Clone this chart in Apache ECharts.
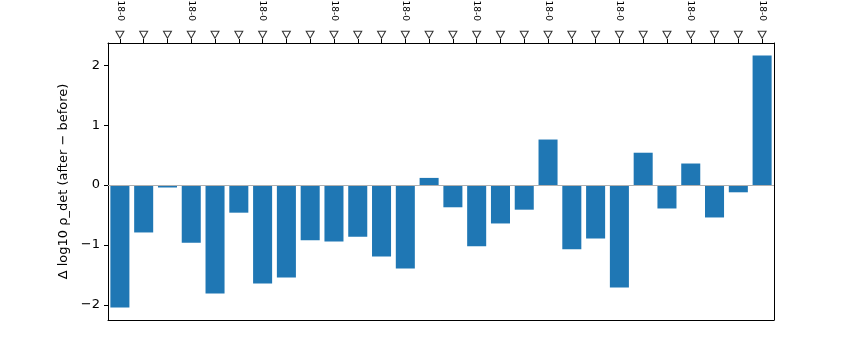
<!DOCTYPE html>
<html>
<head>
<meta charset="utf-8">
<script src="https://cdn.jsdelivr.net/npm/echarts@6/dist/echarts.min.js"></script>
<style>html,body{margin:0;padding:0;background:#fff;}#c{width:860px;height:360px;}</style>
</head>
<body>
<div id="c"></div>
<script>
const categories = [
  "18-01-02","18-01-05","18-01-09","18-01-12","18-01-16","18-01-19","18-01-23",
  "18-01-26","18-01-30","18-02-02","18-02-06","18-02-09","18-02-13","18-02-16",
  "18-02-20","18-02-23","18-02-27","18-03-02","18-03-06","18-03-09","18-03-13",
  "18-03-16","18-03-20","18-03-23","18-03-27","18-03-30","18-04-03","18-04-06"
];
const deltaValues = [
  -2.04, -0.79, -0.04, -0.96, -1.81, -0.46, -1.64, -1.54, -0.92, -0.94,
  -0.86, -1.19, -1.39, 0.12, -0.37, -1.02, -0.64, -0.41, 0.76, -1.07,
  -0.89, -1.71, 0.54, -0.39, 0.36, -0.54, -0.12, 2.16
];
const yTicks = [-2, -1, 0, 1, 2];
const yTickLabels = ["\u22122", "\u22121", "0", "1", "2"];
const visibleLabelChars = 4; // the reference figure crops the top labels to "18-0"
const markerLevel = 1.03; // axes fraction above the plot (like a blended transform)

const chart = echarts.init(document.getElementById('c'), null, {renderer: 'canvas'});
const font = 'DejaVu Sans';
const frameLine = {show: true, onZero: false, lineStyle: {color: '#000', width: 1}};
chart.setOption({
  animation: false,
  backgroundColor: '#fff',
  grid: {left: 108, right: 86, top: 43, bottom: 40, outerBoundsMode: 'none', containLabel: false},
  xAxis: [
    {type: 'category', data: categories, position: 'bottom', boundaryGap: true,
     axisLine: frameLine, axisTick: {show: false}, axisLabel: {show: false}, splitLine: {show: false}},
    {type: 'category', data: categories, position: 'top', boundaryGap: true,
     axisLine: frameLine,
     axisTick: {show: true, alignWithLabel: true, interval: 0, length: 4, lineStyle: {color: '#000', width: 1}},
     axisLabel: {show: true, interval: 2, rotate: 90, margin: 22,
       formatter: v => v.slice(0, visibleLabelChars),
       fontSize: 9, fontFamily: font, color: '#000'},
     splitLine: {show: false}}
  ],
  yAxis: [
    {type: 'value', min: -2.25, max: 2.37, position: 'left',
     name: 'Δ log10 ρ_det (after − before)', nameLocation: 'middle', nameGap: 38, nameRotate: 90,
     nameTextStyle: {fontSize: 13, fontFamily: font, color: '#000'},
     axisLine: frameLine,
     axisTick: {show: true, customValues: yTicks, length: 4, lineStyle: {color: '#000'}},
     axisLabel: {show: true, customValues: yTicks, margin: 8, fontSize: 13, fontFamily: font, color: '#000',
       formatter: v => { const i = yTicks.indexOf(Math.round(v)); return i >= 0 ? yTickLabels[i] : ''; }},
     splitLine: {show: false}},
    {type: 'value', min: 0, max: 1, position: 'right',
     axisLine: frameLine, axisTick: {show: false}, axisLabel: {show: false}, splitLine: {show: false}}
  ],
  series: [
    {type: 'bar', data: deltaValues, xAxisIndex: 0, yAxisIndex: 0, barCategoryGap: '20%',
     itemStyle: {color: '#1f77b4'},
     markLine: {silent: true, symbol: ['none', 'none'], label: {show: false}, z: 5,
       lineStyle: {color: '#b0b0b0', width: 1.2, type: 'solid'}, data: [{yAxis: 0}]}},
    {type: 'scatter', xAxisIndex: 1, yAxisIndex: 1, clip: false,
     data: categories.map((c, i) => [i, markerLevel]),
     symbol: 'triangle', symbolRotate: 180, symbolSize: [8, 7],
     itemStyle: {color: '#fff', borderColor: '#000', borderWidth: 1}}
  ]
});
</script>
</body>
</html>
